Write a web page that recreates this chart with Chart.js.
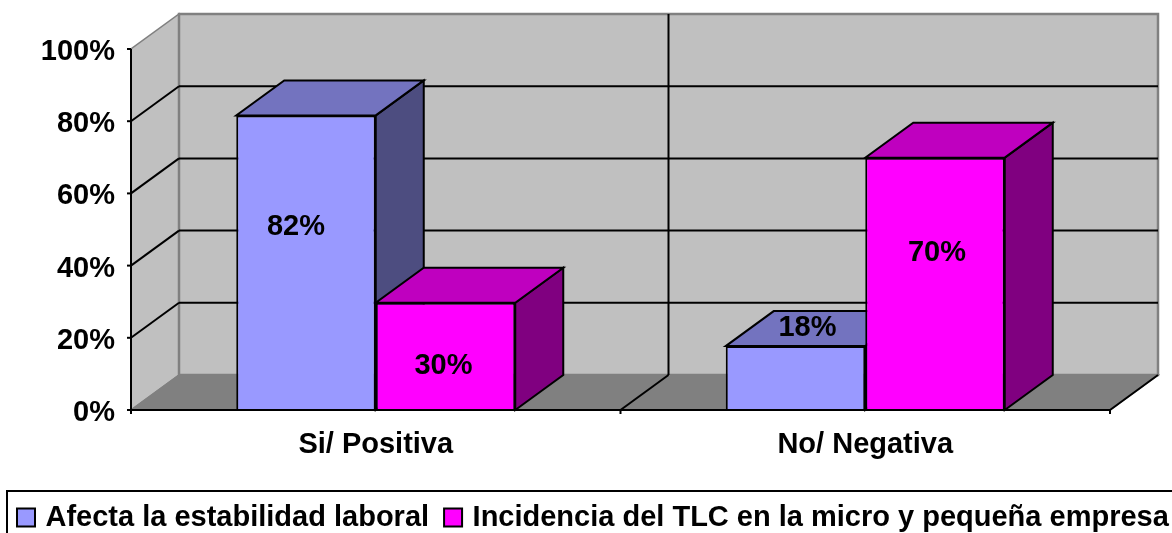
<!DOCTYPE html>
<html><head><meta charset="utf-8">
<style>html,body{margin:0;padding:0;background:#fff}#w{width:1172px;height:533px;position:relative}canvas{display:block}</style>
<script src="https://cdn.jsdelivr.net/npm/chart.js@4"></script>
</head><body><div id="w"><canvas id="c" width="1172" height="533"></canvas></div>
<script>
const categories = ["Si/ Positiva", "No/ Negativa"];
const seriesNames = ["Afecta la estabilidad laboral", "Incidencia del TLC en la micro y pequeña empresa"];
const afectaValues = [81.6, 17.7];
const incidenciaValues = [29.7, 69.9];
const afectaLabels = ["82%", "18%"];
const incidenciaLabels = ["30%", "70%"];
const tickValues = [0, 20, 40, 60, 80, 100];

const DX = 48, DY = -35;
const FAMILY = '"Liberation Sans", Arial, sans-serif';
const FONT = 'bold 29px ' + FAMILY;

function poly(ctx, pts, fill, stroke, lw) {
  ctx.beginPath();
  pts.forEach((p, i) => i ? ctx.lineTo(p[0], p[1]) : ctx.moveTo(p[0], p[1]));
  ctx.closePath();
  if (fill) { ctx.fillStyle = fill; ctx.fill(); }
  if (stroke) { ctx.strokeStyle = stroke; ctx.lineWidth = lw; ctx.stroke(); }
}
function seg(ctx, x1, y1, x2, y2, color, lw) {
  ctx.beginPath(); ctx.moveTo(x1, y1); ctx.lineTo(x2, y2);
  ctx.strokeStyle = color; ctx.lineWidth = lw; ctx.stroke();
}

const shade = [
  { top: "#7373BF", side: "#4D4D80" },
  { top: "#BF00BF", side: "#800080" }
];

const box3d = {
  id: "box3d",
  afterLayout(chart) {
    const lg = chart.legend;
    lg.left = 2; lg.right = 1500; lg.width = 1498;
    lg.top = 484; lg.bottom = 560;
  },
  beforeDatasetsDraw(chart) {
    const { ctx, scales: { x, y }, chartArea: a } = chart;
    ctx.save();
    const L = a.left, R = a.right, B = y.getPixelForValue(0), T = y.getPixelForValue(100);
    poly(ctx, [[L, B], [L + DX, B + DY], [L + DX, T + DY], [L, T]], "#C0C0C0", "#808080", 1.5);
    poly(ctx, [[L + DX, B + DY], [R + DX, B + DY], [R + DX, T + DY], [L + DX, T + DY]], "#C0C0C0", "#808080", 2.5);
    poly(ctx, [[L, B], [R, B], [R + DX, B + DY], [L + DX, B + DY]], "#808080", "#808080", 1.5);
    tickValues.forEach(v => {
      if (v === 0 || v === 100) return;
      const py = y.getPixelForValue(v);
      seg(ctx, L, py, L + DX, py + DY, "#000", 2);
      seg(ctx, L + DX, py + DY, R + DX, py + DY, "#000", 2);
    });
    const mid = (x.getPixelForTick(0) + x.getPixelForTick(1)) / 2;
    seg(ctx, mid, B, mid + DX, B + DY, "#000", 2);
    seg(ctx, mid + DX, B + DY, mid + DX, T + DY, "#000", 2);
    chart.data.datasets.forEach((ds, di) => {
      chart.getDatasetMeta(di).data.forEach(bar => {
        const xl = bar.x - bar.width / 2, xr = bar.x + bar.width / 2, yt = bar.y, yb = bar.base;
        poly(ctx, [[xr, yb], [xr + DX, yb + DY], [xr + DX, yt + DY], [xr, yt]], shade[di].side, "#000", 2);
        poly(ctx, [[xl, yt], [xr, yt], [xr + DX, yt + DY], [xl + DX, yt + DY]], shade[di].top, "#000", 2);
      });
    });
    ctx.restore();
  },
  afterDatasetsDraw(chart) {
    const { ctx, scales: { x, y }, chartArea: a } = chart;
    ctx.save();
    const L = a.left, R = a.right, B = y.getPixelForValue(0);
    seg(ctx, L, y.getPixelForValue(100), L, B + 4, "#000", 2);
    seg(ctx, L - 4, B, R, B, "#000", 2);
    tickValues.forEach(v => { const py = y.getPixelForValue(v); seg(ctx, L - 4, py, L, py, "#000", 2); });
    const mid = (x.getPixelForTick(0) + x.getPixelForTick(1)) / 2;
    seg(ctx, mid, B, mid, B + 4, "#000", 2);
    seg(ctx, R, B, R, B + 4, "#000", 2);
    seg(ctx, R, B, R + DX, B + DY, "#000", 2);
    ctx.font = FONT; ctx.fillStyle = "#000"; ctx.textAlign = "center"; ctx.textBaseline = "middle";
    const o = chart.options.plugins.box3d;
    [afectaLabels, incidenciaLabels].forEach((labels, di) => {
      chart.getDatasetMeta(di).data.forEach((bar, i) => {
        ctx.fillText(labels[i], bar.x + o.lx[di][i], (bar.y + bar.base) / 2 + o.ly[di][i]);
      });
    });
    ctx.restore();
  },
  afterDraw(chart) {
    const { ctx } = chart;
    ctx.save();
    ctx.strokeStyle = "#000"; ctx.lineWidth = 2;
    ctx.strokeRect(7, 491, 1172, 60);
    ctx.restore();
  }
};

new Chart(document.getElementById("c"), {
  type: "bar",
  data: {
    labels: categories,
    datasets: [
      { label: seriesNames[0], data: afectaValues, backgroundColor: "#9999FF", borderColor: "#000", borderWidth: 2 },
      { label: seriesNames[1], data: incidenciaValues, backgroundColor: "#FF00FF", borderColor: "#000", borderWidth: 2 }
    ]
  },
  options: {
    responsive: false,
    animation: false,
    devicePixelRatio: 1,
    layout: { padding: { top: 49, right: 62, left: 0, bottom: 0 } },
    datasets: { bar: { categoryPercentage: 0.57, barPercentage: 1 } },
    scales: {
      y: {
        min: 0, max: 100,
        afterFit(s) { s.width = 131; },
        afterBuildTicks(s) { s.ticks = tickValues.map(v => ({ value: v })); },
        grid: { display: false }, border: { display: false },
        ticks: { callback: v => v + "%", color: "#000", labelOffset: 3, font: { family: FAMILY, size: 29, weight: "bold" }, padding: 8 }
      },
      x: {
        afterFit(s) { s.height = 63; },
        grid: { display: false }, border: { display: false },
        ticks: { color: "#000", maxRotation: 0, padding: 10, font: { family: FAMILY, size: 29, weight: "bold" } }
      }
    },
    plugins: {
      tooltip: { enabled: false },
      box3d: { lx: [[-10, 12], [-2, 2]], ly: [[-36, -50], [10, -31]] },
      legend: {
        display: true,
        position: "bottom",
        align: "start",
        maxHeight: 60,
        labels: {
          color: "#000",
          usePointStyle: true,
          pointStyle: "rect",
          boxWidth: 10,
          boxHeight: 18,
          padding: 19,
          font: { family: FAMILY, size: 29, weight: "bold" }
        }
      }
    }
  },
  plugins: [box3d]
});
</script></body></html>
